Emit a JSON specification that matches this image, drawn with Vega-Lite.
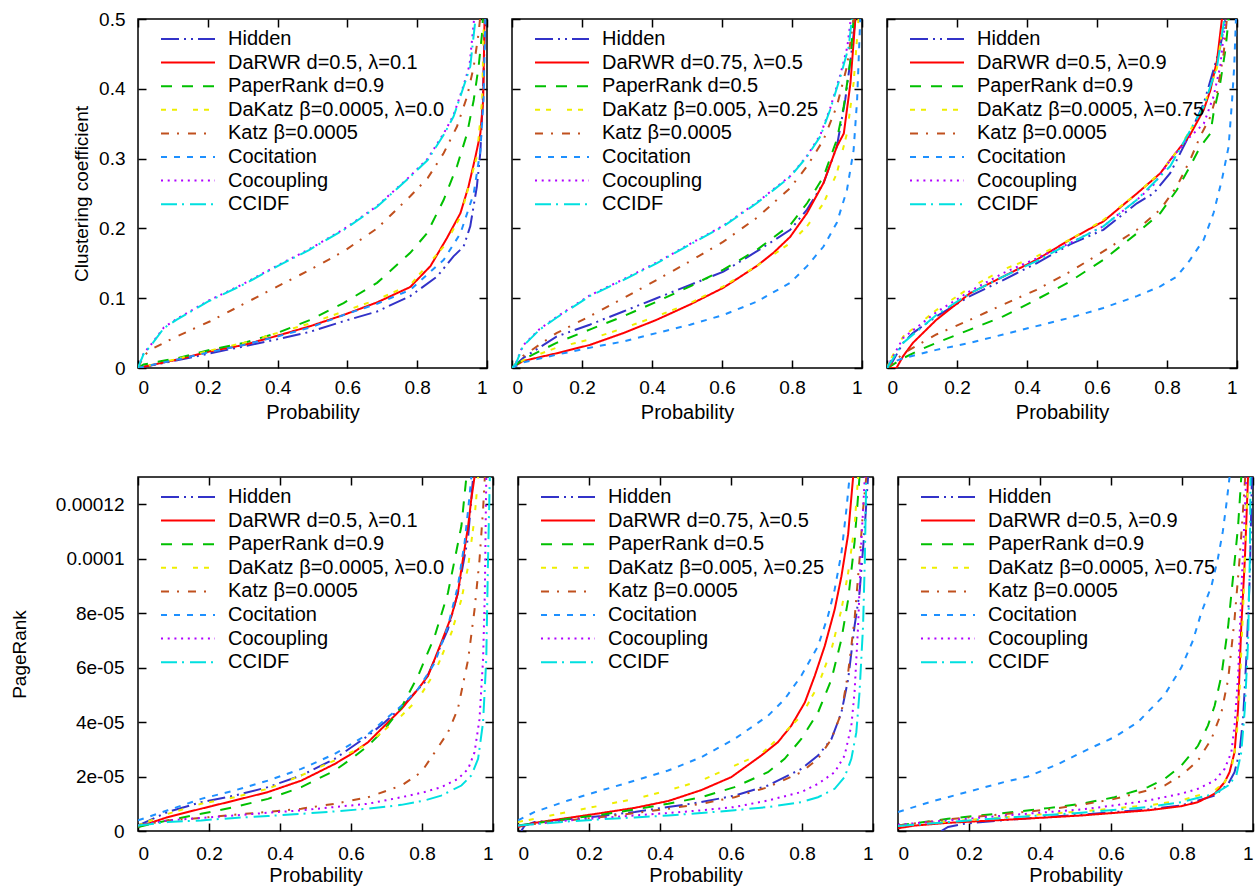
{
"$schema":"https://vega.github.io/schema/vega-lite/v6.json",
"padding":{"left":9,"top":9,"right":0,"bottom":0},
"config":{
 "font":"Liberation Sans",
 "view":{"stroke":"black","strokeWidth":1.5},
 "axis":{"grid":false,"domain":false,"tickColor":"black","tickSize":-8,"tickWidth":1.5,"labelFontSize":19,"labelFont":"Liberation Sans","labelColor":"#000","titleFontSize":19,"titleFont":"Liberation Sans","titleFontWeight":"normal","titleColor":"#000"},
 "axisBottom":{"titleFontSize":20}
},
"datasets":{
"tl":[
{"s":"H","x":0,"y":0},{"s":"H","x":0.112,"y":0.011},{"s":"H","x":0.207,"y":0.021},{"s":"H","x":0.303,"y":0.031},{"s":"H","x":0.398,"y":0.041},{"s":"H","x":0.494,"y":0.052},{"s":"H","x":0.589,"y":0.067},{"s":"H","x":0.685,"y":0.081},{"s":"H","x":0.78,"y":0.103},{"s":"H","x":0.857,"y":0.131},{"s":"H","x":0.904,"y":0.16},{"s":"H","x":0.933,"y":0.174},{"s":"H","x":0.952,"y":0.203},{"s":"H","x":0.971,"y":0.26},{"s":"H","x":0.981,"y":0.31},{"s":"H","x":0.988,"y":0.384},{"s":"H","x":0.995,"y":0.5},
{"s":"R","x":0,"y":0},{"s":"R","x":0.112,"y":0.012},{"s":"R","x":0.207,"y":0.024},{"s":"R","x":0.303,"y":0.033},{"s":"R","x":0.398,"y":0.046},{"s":"R","x":0.494,"y":0.06},{"s":"R","x":0.589,"y":0.076},{"s":"R","x":0.685,"y":0.094},{"s":"R","x":0.78,"y":0.116},{"s":"R","x":0.838,"y":0.146},{"s":"R","x":0.885,"y":0.186},{"s":"R","x":0.924,"y":0.222},{"s":"R","x":0.947,"y":0.26},{"s":"R","x":0.967,"y":0.303},{"s":"R","x":0.981,"y":0.336},{"s":"R","x":0.989,"y":0.384},{"s":"R","x":0.993,"y":0.5},
{"s":"P","x":0,"y":0},{"s":"P","x":0.016,"y":0.005},{"s":"P","x":0.112,"y":0.014},{"s":"P","x":0.207,"y":0.026},{"s":"P","x":0.303,"y":0.036},{"s":"P","x":0.398,"y":0.05},{"s":"P","x":0.494,"y":0.069},{"s":"P","x":0.589,"y":0.093},{"s":"P","x":0.685,"y":0.122},{"s":"P","x":0.78,"y":0.165},{"s":"P","x":0.828,"y":0.193},{"s":"P","x":0.876,"y":0.241},{"s":"P","x":0.914,"y":0.289},{"s":"P","x":0.943,"y":0.336},{"s":"P","x":0.962,"y":0.384},{"s":"P","x":0.976,"y":0.432},{"s":"P","x":0.986,"y":0.48},{"s":"P","x":0.988,"y":0.5},
{"s":"D","x":0,"y":0},{"s":"D","x":0.112,"y":0.013},{"s":"D","x":0.207,"y":0.025},{"s":"D","x":0.303,"y":0.036},{"s":"D","x":0.398,"y":0.05},{"s":"D","x":0.494,"y":0.064},{"s":"D","x":0.589,"y":0.081},{"s":"D","x":0.685,"y":0.098},{"s":"D","x":0.78,"y":0.119},{"s":"D","x":0.876,"y":0.174},{"s":"D","x":0.924,"y":0.217},{"s":"D","x":0.971,"y":0.303},{"s":"D","x":0.986,"y":0.384},{"s":"D","x":0.991,"y":0.5},
{"s":"K","x":0,"y":0},{"s":"K","x":0.016,"y":0.017},{"s":"K","x":0.035,"y":0.026},{"s":"K","x":0.11,"y":0.045},{"s":"K","x":0.207,"y":0.067},{"s":"K","x":0.3,"y":0.091},{"s":"K","x":0.4,"y":0.117},{"s":"K","x":0.494,"y":0.141},{"s":"K","x":0.589,"y":0.167},{"s":"K","x":0.685,"y":0.2},{"s":"K","x":0.78,"y":0.246},{"s":"K","x":0.83,"y":0.272},{"s":"K","x":0.876,"y":0.308},{"s":"K","x":0.914,"y":0.346},{"s":"K","x":0.943,"y":0.389},{"s":"K","x":0.962,"y":0.432},{"s":"K","x":0.976,"y":0.48},{"s":"K","x":0.98,"y":0.5},
{"s":"Ci","x":0,"y":0},{"s":"Ci","x":0.112,"y":0.012},{"s":"Ci","x":0.207,"y":0.023},{"s":"Ci","x":0.303,"y":0.033},{"s":"Ci","x":0.398,"y":0.045},{"s":"Ci","x":0.494,"y":0.058},{"s":"Ci","x":0.589,"y":0.076},{"s":"Ci","x":0.685,"y":0.092},{"s":"Ci","x":0.78,"y":0.112},{"s":"Ci","x":0.876,"y":0.155},{"s":"Ci","x":0.924,"y":0.193},{"s":"Ci","x":0.962,"y":0.25},{"s":"Ci","x":0.981,"y":0.312},{"s":"Ci","x":0.99,"y":0.384},{"s":"Ci","x":0.995,"y":0.5},
{"s":"Co","x":0,"y":0},{"s":"Co","x":0.016,"y":0.021},{"s":"Co","x":0.035,"y":0.032},{"s":"Co","x":0.074,"y":0.058},{"s":"Co","x":0.11,"y":0.07},{"s":"Co","x":0.2,"y":0.096},{"s":"Co","x":0.3,"y":0.12},{"s":"Co","x":0.4,"y":0.147},{"s":"Co","x":0.49,"y":0.17},{"s":"Co","x":0.59,"y":0.199},{"s":"Co","x":0.685,"y":0.232},{"s":"Co","x":0.78,"y":0.275},{"s":"Co","x":0.83,"y":0.3},{"s":"Co","x":0.876,"y":0.336},{"s":"Co","x":0.904,"y":0.362},{"s":"Co","x":0.933,"y":0.405},{"s":"Co","x":0.95,"y":0.434},{"s":"Co","x":0.963,"y":0.5},
{"s":"CC","x":0,"y":0},{"s":"CC","x":0.016,"y":0.02},{"s":"CC","x":0.035,"y":0.031},{"s":"CC","x":0.074,"y":0.057},{"s":"CC","x":0.11,"y":0.069},{"s":"CC","x":0.2,"y":0.095},{"s":"CC","x":0.3,"y":0.119},{"s":"CC","x":0.4,"y":0.146},{"s":"CC","x":0.49,"y":0.169},{"s":"CC","x":0.59,"y":0.198},{"s":"CC","x":0.685,"y":0.231},{"s":"CC","x":0.78,"y":0.274},{"s":"CC","x":0.83,"y":0.298},{"s":"CC","x":0.876,"y":0.334},{"s":"CC","x":0.904,"y":0.36},{"s":"CC","x":0.933,"y":0.403},{"s":"CC","x":0.952,"y":0.432},{"s":"CC","x":0.967,"y":0.5}
],
"tm":[
{"s":"H","x":0,"y":0},{"s":"H","x":0.031,"y":0.014},{"s":"H","x":0.127,"y":0.045},{"s":"H","x":0.222,"y":0.062},{"s":"H","x":0.318,"y":0.081},{"s":"H","x":0.413,"y":0.1},{"s":"H","x":0.509,"y":0.119},{"s":"H","x":0.604,"y":0.138},{"s":"H","x":0.699,"y":0.167},{"s":"H","x":0.795,"y":0.198},{"s":"H","x":0.843,"y":0.227},{"s":"H","x":0.89,"y":0.265},{"s":"H","x":0.928,"y":0.317},{"s":"H","x":0.952,"y":0.384},{"s":"H","x":0.971,"y":0.456},{"s":"H","x":0.981,"y":0.5},
{"s":"R","x":0,"y":0},{"s":"R","x":0.031,"y":0.01},{"s":"R","x":0.127,"y":0.021},{"s":"R","x":0.222,"y":0.033},{"s":"R","x":0.318,"y":0.05},{"s":"R","x":0.413,"y":0.069},{"s":"R","x":0.509,"y":0.091},{"s":"R","x":0.604,"y":0.115},{"s":"R","x":0.699,"y":0.146},{"s":"R","x":0.747,"y":0.165},{"s":"R","x":0.795,"y":0.188},{"s":"R","x":0.843,"y":0.222},{"s":"R","x":0.89,"y":0.265},{"s":"R","x":0.928,"y":0.317},{"s":"R","x":0.948,"y":0.336},{"s":"R","x":0.967,"y":0.408},{"s":"R","x":0.981,"y":0.5},
{"s":"P","x":0,"y":0},{"s":"P","x":0.031,"y":0.012},{"s":"P","x":0.127,"y":0.036},{"s":"P","x":0.222,"y":0.055},{"s":"P","x":0.318,"y":0.074},{"s":"P","x":0.413,"y":0.095},{"s":"P","x":0.509,"y":0.117},{"s":"P","x":0.604,"y":0.141},{"s":"P","x":0.699,"y":0.169},{"s":"P","x":0.795,"y":0.205},{"s":"P","x":0.843,"y":0.236},{"s":"P","x":0.89,"y":0.274},{"s":"P","x":0.928,"y":0.327},{"s":"P","x":0.948,"y":0.375},{"s":"P","x":0.967,"y":0.441},{"s":"P","x":0.976,"y":0.5},
{"s":"D","x":0,"y":0},{"s":"D","x":0.031,"y":0.011},{"s":"D","x":0.127,"y":0.029},{"s":"D","x":0.222,"y":0.041},{"s":"D","x":0.318,"y":0.057},{"s":"D","x":0.413,"y":0.074},{"s":"D","x":0.509,"y":0.093},{"s":"D","x":0.604,"y":0.117},{"s":"D","x":0.699,"y":0.146},{"s":"D","x":0.795,"y":0.179},{"s":"D","x":0.843,"y":0.203},{"s":"D","x":0.89,"y":0.236},{"s":"D","x":0.928,"y":0.279},{"s":"D","x":0.957,"y":0.336},{"s":"D","x":0.976,"y":0.408},{"s":"D","x":0.99,"y":0.5},
{"s":"K","x":0,"y":0},{"s":"K","x":0.012,"y":0.007},{"s":"K","x":0.031,"y":0.017},{"s":"K","x":0.127,"y":0.05},{"s":"K","x":0.222,"y":0.074},{"s":"K","x":0.318,"y":0.1},{"s":"K","x":0.413,"y":0.126},{"s":"K","x":0.509,"y":0.153},{"s":"K","x":0.604,"y":0.181},{"s":"K","x":0.699,"y":0.215},{"s":"K","x":0.795,"y":0.258},{"s":"K","x":0.843,"y":0.289},{"s":"K","x":0.89,"y":0.327},{"s":"K","x":0.928,"y":0.375},{"s":"K","x":0.957,"y":0.432},{"s":"K","x":0.976,"y":0.5},
{"s":"Ci","x":0,"y":0},{"s":"Ci","x":0.031,"y":0.008},{"s":"Ci","x":0.127,"y":0.019},{"s":"Ci","x":0.222,"y":0.029},{"s":"Ci","x":0.318,"y":0.038},{"s":"Ci","x":0.413,"y":0.05},{"s":"Ci","x":0.509,"y":0.062},{"s":"Ci","x":0.604,"y":0.076},{"s":"Ci","x":0.699,"y":0.095},{"s":"Ci","x":0.795,"y":0.122},{"s":"Ci","x":0.843,"y":0.146},{"s":"Ci","x":0.89,"y":0.174},{"s":"Ci","x":0.928,"y":0.208},{"s":"Ci","x":0.957,"y":0.255},{"s":"Ci","x":0.976,"y":0.312},{"s":"Ci","x":0.986,"y":0.384},{"s":"Ci","x":0.995,"y":0.5},
{"s":"Co","x":0,"y":0},{"s":"Co","x":0.012,"y":0.008},{"s":"Co","x":0.031,"y":0.032},{"s":"Co","x":0.079,"y":0.056},{"s":"Co","x":0.127,"y":0.073},{"s":"Co","x":0.222,"y":0.104},{"s":"Co","x":0.318,"y":0.127},{"s":"Co","x":0.413,"y":0.151},{"s":"Co","x":0.509,"y":0.178},{"s":"Co","x":0.604,"y":0.204},{"s":"Co","x":0.699,"y":0.237},{"s":"Co","x":0.795,"y":0.275},{"s":"Co","x":0.843,"y":0.304},{"s":"Co","x":0.881,"y":0.334},{"s":"Co","x":0.909,"y":0.372},{"s":"Co","x":0.938,"y":0.42},{"s":"Co","x":0.958,"y":0.46},{"s":"Co","x":0.968,"y":0.5},
{"s":"CC","x":0,"y":0},{"s":"CC","x":0.012,"y":0.007},{"s":"CC","x":0.031,"y":0.031},{"s":"CC","x":0.079,"y":0.055},{"s":"CC","x":0.127,"y":0.072},{"s":"CC","x":0.222,"y":0.103},{"s":"CC","x":0.318,"y":0.126},{"s":"CC","x":0.413,"y":0.15},{"s":"CC","x":0.509,"y":0.177},{"s":"CC","x":0.604,"y":0.203},{"s":"CC","x":0.699,"y":0.236},{"s":"CC","x":0.795,"y":0.274},{"s":"CC","x":0.843,"y":0.303},{"s":"CC","x":0.881,"y":0.332},{"s":"CC","x":0.909,"y":0.37},{"s":"CC","x":0.938,"y":0.417},{"s":"CC","x":0.962,"y":0.46},{"s":"CC","x":0.971,"y":0.5}
],
"tr":[
{"s":"H","x":0,"y":0},{"s":"H","x":0.008,"y":0.002},{"s":"H","x":0.046,"y":0.036},{"s":"H","x":0.074,"y":0.05},{"s":"H","x":0.141,"y":0.074},{"s":"H","x":0.237,"y":0.103},{"s":"H","x":0.332,"y":0.126},{"s":"H","x":0.427,"y":0.15},{"s":"H","x":0.523,"y":0.177},{"s":"H","x":0.618,"y":0.198},{"s":"H","x":0.714,"y":0.236},{"s":"H","x":0.761,"y":0.25},{"s":"H","x":0.809,"y":0.279},{"s":"H","x":0.857,"y":0.327},{"s":"H","x":0.905,"y":0.379},{"s":"H","x":0.952,"y":0.46},{"s":"H","x":0.967,"y":0.5},
{"s":"R","x":0,"y":0},{"s":"R","x":0.027,"y":0},{"s":"R","x":0.046,"y":0.017},{"s":"R","x":0.074,"y":0.036},{"s":"R","x":0.141,"y":0.069},{"s":"R","x":0.237,"y":0.107},{"s":"R","x":0.332,"y":0.131},{"s":"R","x":0.427,"y":0.155},{"s":"R","x":0.523,"y":0.184},{"s":"R","x":0.618,"y":0.21},{"s":"R","x":0.714,"y":0.25},{"s":"R","x":0.781,"y":0.279},{"s":"R","x":0.809,"y":0.298},{"s":"R","x":0.866,"y":0.334},{"s":"R","x":0.905,"y":0.37},{"s":"R","x":0.924,"y":0.398},{"s":"R","x":0.943,"y":0.441},{"s":"R","x":0.957,"y":0.5},
{"s":"P","x":0,"y":0},{"s":"P","x":0.008,"y":0.002},{"s":"P","x":0.046,"y":0.014},{"s":"P","x":0.094,"y":0.026},{"s":"P","x":0.141,"y":0.036},{"s":"P","x":0.237,"y":0.055},{"s":"P","x":0.332,"y":0.074},{"s":"P","x":0.427,"y":0.098},{"s":"P","x":0.523,"y":0.124},{"s":"P","x":0.618,"y":0.155},{"s":"P","x":0.714,"y":0.193},{"s":"P","x":0.781,"y":0.222},{"s":"P","x":0.828,"y":0.255},{"s":"P","x":0.866,"y":0.289},{"s":"P","x":0.895,"y":0.317},{"s":"P","x":0.924,"y":0.336},{"s":"P","x":0.933,"y":0.365},{"s":"P","x":0.952,"y":0.408},{"s":"P","x":0.967,"y":0.456},{"s":"P","x":0.976,"y":0.5},
{"s":"D","x":0,"y":0},{"s":"D","x":0.008,"y":0.01},{"s":"D","x":0.046,"y":0.045},{"s":"D","x":0.141,"y":0.083},{"s":"D","x":0.237,"y":0.115},{"s":"D","x":0.332,"y":0.141},{"s":"D","x":0.427,"y":0.16},{"s":"D","x":0.523,"y":0.184},{"s":"D","x":0.618,"y":0.212},{"s":"D","x":0.714,"y":0.25},{"s":"D","x":0.781,"y":0.28},{"s":"D","x":0.828,"y":0.31},{"s":"D","x":0.866,"y":0.34},{"s":"D","x":0.905,"y":0.375},{"s":"D","x":0.943,"y":0.43},{"s":"D","x":0.962,"y":0.5},
{"s":"K","x":0,"y":0},{"s":"K","x":0.017,"y":0.007},{"s":"K","x":0.046,"y":0.021},{"s":"K","x":0.141,"y":0.048},{"s":"K","x":0.237,"y":0.069},{"s":"K","x":0.332,"y":0.091},{"s":"K","x":0.427,"y":0.112},{"s":"K","x":0.523,"y":0.138},{"s":"K","x":0.618,"y":0.167},{"s":"K","x":0.714,"y":0.198},{"s":"K","x":0.781,"y":0.227},{"s":"K","x":0.828,"y":0.26},{"s":"K","x":0.866,"y":0.298},{"s":"K","x":0.895,"y":0.332},{"s":"K","x":0.924,"y":0.36},{"s":"K","x":0.943,"y":0.394},{"s":"K","x":0.962,"y":0.451},{"s":"K","x":0.971,"y":0.5},
{"s":"Ci","x":0,"y":0},{"s":"Ci","x":0.008,"y":0.007},{"s":"Ci","x":0.046,"y":0.014},{"s":"Ci","x":0.141,"y":0.026},{"s":"Ci","x":0.237,"y":0.036},{"s":"Ci","x":0.332,"y":0.048},{"s":"Ci","x":0.427,"y":0.06},{"s":"Ci","x":0.523,"y":0.072},{"s":"Ci","x":0.618,"y":0.086},{"s":"Ci","x":0.714,"y":0.103},{"s":"Ci","x":0.781,"y":0.117},{"s":"Ci","x":0.828,"y":0.131},{"s":"Ci","x":0.866,"y":0.155},{"s":"Ci","x":0.905,"y":0.184},{"s":"Ci","x":0.933,"y":0.222},{"s":"Ci","x":0.957,"y":0.27},{"s":"Ci","x":0.976,"y":0.317},{"s":"Ci","x":0.986,"y":0.384},{"s":"Ci","x":0.992,"y":0.432},{"s":"Ci","x":0.997,"y":0.5},
{"s":"Co","x":0,"y":0},{"s":"Co","x":0.008,"y":0.008},{"s":"Co","x":0.046,"y":0.043},{"s":"Co","x":0.141,"y":0.08},{"s":"Co","x":0.237,"y":0.11},{"s":"Co","x":0.332,"y":0.136},{"s":"Co","x":0.427,"y":0.157},{"s":"Co","x":0.523,"y":0.179},{"s":"Co","x":0.618,"y":0.203},{"s":"Co","x":0.714,"y":0.241},{"s":"Co","x":0.761,"y":0.262},{"s":"Co","x":0.809,"y":0.298},{"s":"Co","x":0.857,"y":0.327},{"s":"Co","x":0.905,"y":0.35},{"s":"Co","x":0.933,"y":0.389},{"s":"Co","x":0.952,"y":0.432},{"s":"Co","x":0.967,"y":0.5},
{"s":"CC","x":0,"y":0},{"s":"CC","x":0.008,"y":0.006},{"s":"CC","x":0.046,"y":0.036},{"s":"CC","x":0.141,"y":0.076},{"s":"CC","x":0.237,"y":0.107},{"s":"CC","x":0.332,"y":0.131},{"s":"CC","x":0.427,"y":0.153},{"s":"CC","x":0.523,"y":0.179},{"s":"CC","x":0.618,"y":0.203},{"s":"CC","x":0.714,"y":0.241},{"s":"CC","x":0.809,"y":0.289},{"s":"CC","x":0.857,"y":0.332},{"s":"CC","x":0.905,"y":0.375},{"s":"CC","x":0.943,"y":0.432},{"s":"CC","x":0.964,"y":0.5}
],
"bl":[
{"s":"H","x":0,"y":2e-6},{"s":"H","x":0.084,"y":7e-6},{"s":"H","x":0.178,"y":1.06e-5},{"s":"H","x":0.272,"y":1.3e-5},{"s":"H","x":0.366,"y":1.61e-5},{"s":"H","x":0.46,"y":2.04e-5},{"s":"H","x":0.554,"y":2.65e-5},{"s":"H","x":0.648,"y":3.5e-5},{"s":"H","x":0.695,"y":3.99e-5},{"s":"H","x":0.742,"y":4.54e-5},{"s":"H","x":0.789,"y":5.21e-5},{"s":"H","x":0.807,"y":5.45e-5},{"s":"H","x":0.836,"y":6.3e-5},{"s":"H","x":0.873,"y":7.4e-5},{"s":"H","x":0.901,"y":8.74e-5},{"s":"H","x":0.93,"y":1.08e-4},{"s":"H","x":0.944,"y":1.3e-4},
{"s":"R","x":0,"y":1.5e-6},{"s":"R","x":0.084,"y":5.1e-6},{"s":"R","x":0.178,"y":8.2e-6},{"s":"R","x":0.272,"y":1.12e-5},{"s":"R","x":0.366,"y":1.43e-5},{"s":"R","x":0.46,"y":1.85e-5},{"s":"R","x":0.554,"y":2.46e-5},{"s":"R","x":0.601,"y":2.83e-5},{"s":"R","x":0.648,"y":3.26e-5},{"s":"R","x":0.695,"y":3.87e-5},{"s":"R","x":0.742,"y":4.48e-5},{"s":"R","x":0.789,"y":5.21e-5},{"s":"R","x":0.817,"y":5.7e-5},{"s":"R","x":0.854,"y":6.91e-5},{"s":"R","x":0.883,"y":7.89e-5},{"s":"R","x":0.901,"y":8.74e-5},{"s":"R","x":0.915,"y":9.96e-5},{"s":"R","x":0.93,"y":1.12e-4},{"s":"R","x":0.939,"y":1.22e-4},{"s":"R","x":0.948,"y":1.3e-4},
{"s":"P","x":0,"y":1.5e-6},{"s":"P","x":0.084,"y":3.9e-6},{"s":"P","x":0.178,"y":6.3e-6},{"s":"P","x":0.272,"y":8.8e-6},{"s":"P","x":0.366,"y":1.18e-5},{"s":"P","x":0.46,"y":1.61e-5},{"s":"P","x":0.554,"y":2.22e-5},{"s":"P","x":0.601,"y":2.65e-5},{"s":"P","x":0.648,"y":3.13e-5},{"s":"P","x":0.695,"y":3.74e-5},{"s":"P","x":0.742,"y":4.54e-5},{"s":"P","x":0.789,"y":5.7e-5},{"s":"P","x":0.836,"y":7.16e-5},{"s":"P","x":0.873,"y":8.74e-5},{"s":"P","x":0.892,"y":9.96e-5},{"s":"P","x":0.911,"y":1.12e-4},{"s":"P","x":0.925,"y":1.3e-4},
{"s":"D","x":0,"y":2e-6},{"s":"D","x":0.084,"y":6.3e-6},{"s":"D","x":0.178,"y":1e-5},{"s":"D","x":0.272,"y":1.24e-5},{"s":"D","x":0.366,"y":1.55e-5},{"s":"D","x":0.46,"y":2.04e-5},{"s":"D","x":0.554,"y":2.59e-5},{"s":"D","x":0.648,"y":3.2e-5},{"s":"D","x":0.742,"y":4.23e-5},{"s":"D","x":0.789,"y":4.84e-5},{"s":"D","x":0.836,"y":5.82e-5},{"s":"D","x":0.883,"y":7.28e-5},{"s":"D","x":0.911,"y":8.5e-5},{"s":"D","x":0.93,"y":9.72e-5},{"s":"D","x":0.948,"y":1.15e-4},{"s":"D","x":0.958,"y":1.3e-4},
{"s":"K","x":0,"y":2e-6},{"s":"K","x":0.084,"y":3.9e-6},{"s":"K","x":0.178,"y":4.8e-6},{"s":"K","x":0.272,"y":6e-6},{"s":"K","x":0.366,"y":7e-6},{"s":"K","x":0.46,"y":8.2e-6},{"s":"K","x":0.554,"y":1e-5},{"s":"K","x":0.648,"y":1.24e-5},{"s":"K","x":0.742,"y":1.67e-5},{"s":"K","x":0.798,"y":2.16e-5},{"s":"K","x":0.836,"y":2.89e-5},{"s":"K","x":0.873,"y":3.62e-5},{"s":"K","x":0.901,"y":4.48e-5},{"s":"K","x":0.93,"y":6.3e-5},{"s":"K","x":0.948,"y":8.13e-5},{"s":"K","x":0.962,"y":9.96e-5},{"s":"K","x":0.972,"y":1.18e-4},{"s":"K","x":0.977,"y":1.3e-4},
{"s":"Ci","x":0,"y":3.9e-6},{"s":"Ci","x":0.084,"y":7.6e-6},{"s":"Ci","x":0.178,"y":1.18e-5},{"s":"Ci","x":0.272,"y":1.49e-5},{"s":"Ci","x":0.366,"y":1.85e-5},{"s":"Ci","x":0.46,"y":2.28e-5},{"s":"Ci","x":0.554,"y":2.83e-5},{"s":"Ci","x":0.648,"y":3.56e-5},{"s":"Ci","x":0.742,"y":4.6e-5},{"s":"Ci","x":0.789,"y":5.21e-5},{"s":"Ci","x":0.836,"y":6.18e-5},{"s":"Ci","x":0.873,"y":7.52e-5},{"s":"Ci","x":0.901,"y":8.99e-5},{"s":"Ci","x":0.92,"y":1.06e-4},{"s":"Ci","x":0.93,"y":1.18e-4},{"s":"Ci","x":0.939,"y":1.3e-4},
{"s":"Co","x":0,"y":2e-6},{"s":"Co","x":0.084,"y":3.9e-6},{"s":"Co","x":0.178,"y":4.8e-6},{"s":"Co","x":0.272,"y":5.7e-6},{"s":"Co","x":0.366,"y":6.7e-6},{"s":"Co","x":0.46,"y":7.6e-6},{"s":"Co","x":0.554,"y":8.8e-6},{"s":"Co","x":0.648,"y":1e-5},{"s":"Co","x":0.742,"y":1.24e-5},{"s":"Co","x":0.807,"y":1.43e-5},{"s":"Co","x":0.854,"y":1.61e-5},{"s":"Co","x":0.901,"y":1.91e-5},{"s":"Co","x":0.93,"y":2.28e-5},{"s":"Co","x":0.948,"y":2.89e-5},{"s":"Co","x":0.962,"y":4.11e-5},{"s":"Co","x":0.972,"y":6.3e-5},{"s":"Co","x":0.977,"y":8.74e-5},{"s":"Co","x":0.981,"y":1.3e-4},
{"s":"CC","x":0,"y":2e-6},{"s":"CC","x":0.084,"y":3.3e-6},{"s":"CC","x":0.178,"y":3.9e-6},{"s":"CC","x":0.272,"y":4.8e-6},{"s":"CC","x":0.366,"y":5.5e-6},{"s":"CC","x":0.46,"y":6.3e-6},{"s":"CC","x":0.554,"y":7.2e-6},{"s":"CC","x":0.648,"y":8.2e-6},{"s":"CC","x":0.742,"y":9.6e-6},{"s":"CC","x":0.807,"y":1.12e-5},{"s":"CC","x":0.854,"y":1.3e-5},{"s":"CC","x":0.911,"y":1.67e-5},{"s":"CC","x":0.939,"y":2.04e-5},{"s":"CC","x":0.958,"y":2.65e-5},{"s":"CC","x":0.972,"y":3.99e-5},{"s":"CC","x":0.981,"y":6.3e-5},{"s":"CC","x":0.986,"y":9.96e-5},{"s":"CC","x":0.991,"y":1.3e-4}
],
"bm":[
{"s":"H","x":0.009,"y":0},{"s":"H","x":0.019,"y":2e-6},{"s":"H","x":0.047,"y":3.3e-6},{"s":"H","x":0.141,"y":4.3e-6},{"s":"H","x":0.235,"y":5.5e-6},{"s":"H","x":0.329,"y":7e-6},{"s":"H","x":0.423,"y":8.8e-6},{"s":"H","x":0.516,"y":1.06e-5},{"s":"H","x":0.61,"y":1.3e-5},{"s":"H","x":0.704,"y":1.67e-5},{"s":"H","x":0.798,"y":2.28e-5},{"s":"H","x":0.845,"y":2.77e-5},{"s":"H","x":0.883,"y":3.38e-5},{"s":"H","x":0.911,"y":4.35e-5},{"s":"H","x":0.93,"y":5.57e-5},{"s":"H","x":0.948,"y":7.52e-5},{"s":"H","x":0.962,"y":8.74e-5},{"s":"H","x":0.977,"y":1.12e-4},{"s":"H","x":0.986,"y":1.3e-4},
{"s":"R","x":0,"y":1.5e-6},{"s":"R","x":0.047,"y":3e-6},{"s":"R","x":0.141,"y":4.8e-6},{"s":"R","x":0.235,"y":6.6e-6},{"s":"R","x":0.329,"y":8.5e-6},{"s":"R","x":0.423,"y":1.1e-5},{"s":"R","x":0.516,"y":1.5e-5},{"s":"R","x":0.601,"y":1.98e-5},{"s":"R","x":0.685,"y":2.77e-5},{"s":"R","x":0.732,"y":3.26e-5},{"s":"R","x":0.77,"y":3.87e-5},{"s":"R","x":0.808,"y":4.72e-5},{"s":"R","x":0.836,"y":5.7e-5},{"s":"R","x":0.864,"y":6.79e-5},{"s":"R","x":0.892,"y":8.13e-5},{"s":"R","x":0.911,"y":9.35e-5},{"s":"R","x":0.93,"y":1.09e-4},{"s":"R","x":0.944,"y":1.3e-4},
{"s":"P","x":0,"y":2e-6},{"s":"P","x":0.141,"y":4.5e-6},{"s":"P","x":0.235,"y":6e-6},{"s":"P","x":0.329,"y":7.9e-6},{"s":"P","x":0.423,"y":1e-5},{"s":"P","x":0.516,"y":1.24e-5},{"s":"P","x":0.61,"y":1.61e-5},{"s":"P","x":0.704,"y":2.16e-5},{"s":"P","x":0.751,"y":2.65e-5},{"s":"P","x":0.798,"y":3.38e-5},{"s":"P","x":0.845,"y":4.35e-5},{"s":"P","x":0.883,"y":5.57e-5},{"s":"P","x":0.911,"y":7.04e-5},{"s":"P","x":0.93,"y":8.5e-5},{"s":"P","x":0.948,"y":1.06e-4},{"s":"P","x":0.962,"y":1.3e-4},
{"s":"D","x":0,"y":3.3e-6},{"s":"D","x":0.047,"y":4.5e-6},{"s":"D","x":0.141,"y":7e-6},{"s":"D","x":0.235,"y":9.4e-6},{"s":"D","x":0.329,"y":1.18e-5},{"s":"D","x":0.423,"y":1.49e-5},{"s":"D","x":0.516,"y":1.85e-5},{"s":"D","x":0.61,"y":2.4e-5},{"s":"D","x":0.685,"y":2.83e-5},{"s":"D","x":0.751,"y":3.62e-5},{"s":"D","x":0.798,"y":4.23e-5},{"s":"D","x":0.845,"y":5.33e-5},{"s":"D","x":0.883,"y":6.67e-5},{"s":"D","x":0.911,"y":8.13e-5},{"s":"D","x":0.93,"y":9.48e-5},{"s":"D","x":0.948,"y":1.12e-4},{"s":"D","x":0.958,"y":1.3e-4},
{"s":"K","x":0,"y":2e-6},{"s":"K","x":0.141,"y":3.9e-6},{"s":"K","x":0.235,"y":5.1e-6},{"s":"K","x":0.329,"y":6.6e-6},{"s":"K","x":0.423,"y":8.2e-6},{"s":"K","x":0.516,"y":1e-5},{"s":"K","x":0.61,"y":1.24e-5},{"s":"K","x":0.704,"y":1.61e-5},{"s":"K","x":0.798,"y":2.16e-5},{"s":"K","x":0.845,"y":2.65e-5},{"s":"K","x":0.883,"y":3.38e-5},{"s":"K","x":0.911,"y":4.35e-5},{"s":"K","x":0.93,"y":5.82e-5},{"s":"K","x":0.948,"y":7.77e-5},{"s":"K","x":0.962,"y":9.96e-5},{"s":"K","x":0.972,"y":1.18e-4},{"s":"K","x":0.981,"y":1.3e-4},
{"s":"Ci","x":0,"y":3.9e-6},{"s":"Ci","x":0.047,"y":7e-6},{"s":"Ci","x":0.141,"y":1.12e-5},{"s":"Ci","x":0.235,"y":1.49e-5},{"s":"Ci","x":0.329,"y":1.85e-5},{"s":"Ci","x":0.423,"y":2.22e-5},{"s":"Ci","x":0.516,"y":2.71e-5},{"s":"Ci","x":0.61,"y":3.38e-5},{"s":"Ci","x":0.704,"y":4.23e-5},{"s":"Ci","x":0.751,"y":4.84e-5},{"s":"Ci","x":0.798,"y":5.7e-5},{"s":"Ci","x":0.845,"y":6.79e-5},{"s":"Ci","x":0.873,"y":7.89e-5},{"s":"Ci","x":0.892,"y":8.87e-5},{"s":"Ci","x":0.911,"y":1.02e-4},{"s":"Ci","x":0.925,"y":1.18e-4},{"s":"Ci","x":0.934,"y":1.3e-4},
{"s":"Co","x":0,"y":2e-6},{"s":"Co","x":0.141,"y":3.9e-6},{"s":"Co","x":0.235,"y":4.8e-6},{"s":"Co","x":0.329,"y":5.7e-6},{"s":"Co","x":0.423,"y":6.6e-6},{"s":"Co","x":0.516,"y":7.6e-6},{"s":"Co","x":0.61,"y":8.8e-6},{"s":"Co","x":0.704,"y":1.12e-5},{"s":"Co","x":0.798,"y":1.43e-5},{"s":"Co","x":0.845,"y":1.73e-5},{"s":"Co","x":0.892,"y":2.16e-5},{"s":"Co","x":0.92,"y":2.77e-5},{"s":"Co","x":0.939,"y":3.87e-5},{"s":"Co","x":0.948,"y":5.09e-5},{"s":"Co","x":0.958,"y":7.52e-5},{"s":"Co","x":0.967,"y":1.06e-4},{"s":"Co","x":0.977,"y":1.3e-4},
{"s":"CC","x":0,"y":2e-6},{"s":"CC","x":0.141,"y":3.5e-6},{"s":"CC","x":0.235,"y":4.3e-6},{"s":"CC","x":0.329,"y":5e-6},{"s":"CC","x":0.423,"y":5.7e-6},{"s":"CC","x":0.516,"y":6.6e-6},{"s":"CC","x":0.61,"y":7.6e-6},{"s":"CC","x":0.704,"y":8.8e-6},{"s":"CC","x":0.798,"y":1.06e-5},{"s":"CC","x":0.845,"y":1.24e-5},{"s":"CC","x":0.892,"y":1.55e-5},{"s":"CC","x":0.92,"y":1.98e-5},{"s":"CC","x":0.939,"y":2.65e-5},{"s":"CC","x":0.953,"y":3.62e-5},{"s":"CC","x":0.962,"y":5.09e-5},{"s":"CC","x":0.972,"y":7.52e-5},{"s":"CC","x":0.977,"y":9.96e-5},{"s":"CC","x":0.981,"y":1.3e-4}
],
"br":[
{"s":"H","x":0.122,"y":0},{"s":"H","x":0.141,"y":1.5e-6},{"s":"H","x":0.188,"y":2.7e-6},{"s":"H","x":0.329,"y":4.3e-6},{"s":"H","x":0.516,"y":6e-6},{"s":"H","x":0.704,"y":7.9e-6},{"s":"H","x":0.798,"y":9.4e-6},{"s":"H","x":0.892,"y":1.3e-5},{"s":"H","x":0.93,"y":1.73e-5},{"s":"H","x":0.948,"y":2.16e-5},{"s":"H","x":0.962,"y":2.89e-5},{"s":"H","x":0.972,"y":4.11e-5},{"s":"H","x":0.981,"y":6.3e-5},{"s":"H","x":0.991,"y":9.35e-5},{"s":"H","x":0.997,"y":1.3e-4},
{"s":"R","x":0,"y":1e-6},{"s":"R","x":0.047,"y":2e-6},{"s":"R","x":0.141,"y":3e-6},{"s":"R","x":0.329,"y":4.3e-6},{"s":"R","x":0.516,"y":5.7e-6},{"s":"R","x":0.704,"y":7.6e-6},{"s":"R","x":0.798,"y":9.1e-6},{"s":"R","x":0.845,"y":1.06e-5},{"s":"R","x":0.892,"y":1.37e-5},{"s":"R","x":0.92,"y":1.79e-5},{"s":"R","x":0.934,"y":2.16e-5},{"s":"R","x":0.948,"y":2.89e-5},{"s":"R","x":0.958,"y":4.48e-5},{"s":"R","x":0.967,"y":7.52e-5},{"s":"R","x":0.977,"y":9.96e-5},{"s":"R","x":0.986,"y":1.3e-4},
{"s":"P","x":0,"y":2e-6},{"s":"P","x":0.141,"y":4.5e-6},{"s":"P","x":0.329,"y":7e-6},{"s":"P","x":0.423,"y":8.4e-6},{"s":"P","x":0.516,"y":1e-5},{"s":"P","x":0.61,"y":1.24e-5},{"s":"P","x":0.704,"y":1.61e-5},{"s":"P","x":0.751,"y":1.91e-5},{"s":"P","x":0.798,"y":2.4e-5},{"s":"P","x":0.845,"y":3.13e-5},{"s":"P","x":0.873,"y":3.87e-5},{"s":"P","x":0.892,"y":4.6e-5},{"s":"P","x":0.911,"y":5.7e-5},{"s":"P","x":0.93,"y":7.52e-5},{"s":"P","x":0.944,"y":9.35e-5},{"s":"P","x":0.958,"y":1.12e-4},{"s":"P","x":0.967,"y":1.3e-4},
{"s":"D","x":0,"y":2e-6},{"s":"D","x":0.141,"y":3.5e-6},{"s":"D","x":0.329,"y":5.4e-6},{"s":"D","x":0.516,"y":7.2e-6},{"s":"D","x":0.704,"y":9.4e-6},{"s":"D","x":0.798,"y":1.12e-5},{"s":"D","x":0.892,"y":1.49e-5},{"s":"D","x":0.92,"y":1.79e-5},{"s":"D","x":0.939,"y":2.28e-5},{"s":"D","x":0.953,"y":3.26e-5},{"s":"D","x":0.962,"y":5.09e-5},{"s":"D","x":0.972,"y":8.13e-5},{"s":"D","x":0.981,"y":1.12e-4},{"s":"D","x":0.986,"y":1.3e-4},
{"s":"K","x":0,"y":2e-6},{"s":"K","x":0.141,"y":4.3e-6},{"s":"K","x":0.329,"y":6.6e-6},{"s":"K","x":0.423,"y":7.9e-6},{"s":"K","x":0.516,"y":9.6e-6},{"s":"K","x":0.61,"y":1.18e-5},{"s":"K","x":0.704,"y":1.49e-5},{"s":"K","x":0.751,"y":1.67e-5},{"s":"K","x":0.798,"y":2.04e-5},{"s":"K","x":0.845,"y":2.59e-5},{"s":"K","x":0.883,"y":3.38e-5},{"s":"K","x":0.911,"y":4.35e-5},{"s":"K","x":0.93,"y":5.57e-5},{"s":"K","x":0.948,"y":7.77e-5},{"s":"K","x":0.962,"y":9.96e-5},{"s":"K","x":0.972,"y":1.18e-4},{"s":"K","x":0.978,"y":1.3e-4},
{"s":"Ci","x":0,"y":7e-6},{"s":"Ci","x":0.1,"y":1.1e-5},{"s":"Ci","x":0.2,"y":1.45e-5},{"s":"Ci","x":0.3,"y":1.8e-5},{"s":"Ci","x":0.366,"y":2e-5},{"s":"Ci","x":0.45,"y":2.45e-5},{"s":"Ci","x":0.535,"y":3e-5},{"s":"Ci","x":0.61,"y":3.45e-5},{"s":"Ci","x":0.676,"y":4e-5},{"s":"Ci","x":0.751,"y":5e-5},{"s":"Ci","x":0.798,"y":6e-5},{"s":"Ci","x":0.831,"y":7e-5},{"s":"Ci","x":0.854,"y":8e-5},{"s":"Ci","x":0.883,"y":9e-5},{"s":"Ci","x":0.901,"y":1e-4},{"s":"Ci","x":0.915,"y":1.1e-4},{"s":"Ci","x":0.925,"y":1.2e-4},{"s":"Ci","x":0.934,"y":1.3e-4},
{"s":"Co","x":0,"y":2.3e-6},{"s":"Co","x":0.141,"y":3.9e-6},{"s":"Co","x":0.329,"y":6e-6},{"s":"Co","x":0.516,"y":7.9e-6},{"s":"Co","x":0.61,"y":9.4e-6},{"s":"Co","x":0.704,"y":1.12e-5},{"s":"Co","x":0.798,"y":1.37e-5},{"s":"Co","x":0.845,"y":1.55e-5},{"s":"Co","x":0.892,"y":1.85e-5},{"s":"Co","x":0.92,"y":2.28e-5},{"s":"Co","x":0.939,"y":2.89e-5},{"s":"Co","x":0.948,"y":3.87e-5},{"s":"Co","x":0.958,"y":5.7e-5},{"s":"Co","x":0.967,"y":8.74e-5},{"s":"Co","x":0.977,"y":1.18e-4},{"s":"Co","x":0.981,"y":1.3e-4},
{"s":"CC","x":0,"y":1.8e-6},{"s":"CC","x":0.141,"y":3.3e-6},{"s":"CC","x":0.329,"y":5.1e-6},{"s":"CC","x":0.516,"y":6.7e-6},{"s":"CC","x":0.704,"y":8.8e-6},{"s":"CC","x":0.798,"y":1.06e-5},{"s":"CC","x":0.892,"y":1.37e-5},{"s":"CC","x":0.93,"y":1.67e-5},{"s":"CC","x":0.953,"y":2.04e-5},{"s":"CC","x":0.967,"y":2.89e-5},{"s":"CC","x":0.977,"y":4.48e-5},{"s":"CC","x":0.986,"y":6.91e-5},{"s":"CC","x":0.991,"y":9.96e-5},{"s":"CC","x":0.993,"y":1.3e-4}
]
},
"vconcat":[
{"hconcat":[
 {"width":349,"height":349,"data":{"name":"tl"},
  "layer":[
   {"mark":{"type":"line","strokeWidth":2,"clip":true},
    "encoding":{
     "x":{"field":"x","type":"quantitative","scale":{"domain":[0,1],"nice":false},"axis":{"orient":"bottom","values":[0,0.2,0.4,0.6,0.8,1],"format":"~g","title":"Probability","labelPadding":18,"titlePadding":5}},
     "y":{"field":"y","type":"quantitative","scale":{"domain":[0,0.5],"nice":false},"axis":{"orient":"left","values":[0,0.1,0.2,0.3,0.4,0.5],"format":"~g","title":["","Clustering coefficient"],"titleLineHeight":27,"labelPadding":21,"titlePadding":7}},
     "color":{"field":"s","type":"nominal","scale":{"domain":["H","R","P","D","K","Ci","Co","CC"],"range":["#3232c8","#ff0000","#00c000","#eeee00","#c0501e","#1e90ff","#b000ff","#00e0e0"]},"legend":{"orient":"none","legendX":22,"legendY":10,"title":null,"symbolType":"stroke","symbolSize":2916,"symbolStrokeWidth":2,"clipHeight":20,"rowPadding":3.6,"labelOffset":12,"padding":0,"labelLimit":0,"labelFontSize":20,"labelFont":"Liberation Sans","labelColor":"#000","labelExpr":"datum.value=='H'?'Hidden':datum.value=='R'?'DaRWR d=0.5, λ=0.1':datum.value=='P'?'PaperRank d=0.9':datum.value=='D'?'DaKatz β=0.0005, λ=0.0':datum.value=='K'?'Katz β=0.0005':datum.value=='Ci'?'Cocitation':datum.value=='Co'?'Cocoupling':'CCIDF'"}},
     "strokeDash":{"field":"s","type":"nominal","scale":{"domain":["H","R","P","D","K","Ci","Co","CC"],"range":[[18,5,2,5,2,5],[1,0],[11,10],[5,6,5,16],[8,8,2,9],[6,7],[2,4.7],[16,5,2,6]]},"legend":{"orient":"none","legendX":22,"legendY":10,"title":null,"symbolType":"stroke","symbolSize":2916,"symbolStrokeWidth":2,"clipHeight":20,"rowPadding":3.6,"labelOffset":12,"padding":0,"labelLimit":0,"labelFontSize":20,"labelFont":"Liberation Sans","labelColor":"#000","labelExpr":"datum.value=='H'?'Hidden':datum.value=='R'?'DaRWR d=0.5, λ=0.1':datum.value=='P'?'PaperRank d=0.9':datum.value=='D'?'DaKatz β=0.0005, λ=0.0':datum.value=='K'?'Katz β=0.0005':datum.value=='Ci'?'Cocitation':datum.value=='Co'?'Cocoupling':'CCIDF'"}}
    }},
   {"mark":{"type":"line","opacity":0},
    "encoding":{
     "x":{"field":"x","type":"quantitative","axis":{"orient":"top","values":[0,0.2,0.4,0.6,0.8,1],"labels":false,"title":null}},
     "y":{"field":"y","type":"quantitative","axis":{"orient":"right","values":[0,0.1,0.2,0.3,0.4,0.5],"labels":false,"title":null}}
    }}
  ],
  "resolve":{"axis":{"x":"independent","y":"independent"}}
 },
 {"width":350,"height":349,"data":{"name":"tm"},
  "layer":[
   {"mark":{"type":"line","strokeWidth":2,"clip":true},
    "encoding":{
     "x":{"field":"x","type":"quantitative","scale":{"domain":[0,1],"nice":false},"axis":{"orient":"bottom","values":[0,0.2,0.4,0.6,0.8,1],"format":"~g","title":"Probability","labelPadding":18,"titlePadding":5}},
     "y":{"field":"y","type":"quantitative","scale":{"domain":[0,0.5],"nice":false},"axis":{"orient":"left","values":[0,0.1,0.2,0.3,0.4,0.5],"labels":false,"title":null}},
     "color":{"field":"s","type":"nominal","scale":{"domain":["H","R","P","D","K","Ci","Co","CC"],"range":["#3232c8","#ff0000","#00c000","#eeee00","#c0501e","#1e90ff","#b000ff","#00e0e0"]},"legend":{"orient":"none","legendX":22,"legendY":10,"title":null,"symbolType":"stroke","symbolSize":2916,"symbolStrokeWidth":2,"clipHeight":20,"rowPadding":3.6,"labelOffset":12,"padding":0,"labelLimit":0,"labelFontSize":20,"labelFont":"Liberation Sans","labelColor":"#000","labelExpr":"datum.value=='H'?'Hidden':datum.value=='R'?'DaRWR d=0.75, λ=0.5':datum.value=='P'?'PaperRank d=0.5':datum.value=='D'?'DaKatz β=0.005, λ=0.25':datum.value=='K'?'Katz β=0.0005':datum.value=='Ci'?'Cocitation':datum.value=='Co'?'Cocoupling':'CCIDF'"}},
     "strokeDash":{"field":"s","type":"nominal","scale":{"domain":["H","R","P","D","K","Ci","Co","CC"],"range":[[18,5,2,5,2,5],[1,0],[11,10],[5,6,5,16],[8,8,2,9],[6,7],[2,4.7],[16,5,2,6]]},"legend":{"orient":"none","legendX":22,"legendY":10,"title":null,"symbolType":"stroke","symbolSize":2916,"symbolStrokeWidth":2,"clipHeight":20,"rowPadding":3.6,"labelOffset":12,"padding":0,"labelLimit":0,"labelFontSize":20,"labelFont":"Liberation Sans","labelColor":"#000","labelExpr":"datum.value=='H'?'Hidden':datum.value=='R'?'DaRWR d=0.75, λ=0.5':datum.value=='P'?'PaperRank d=0.5':datum.value=='D'?'DaKatz β=0.005, λ=0.25':datum.value=='K'?'Katz β=0.0005':datum.value=='Ci'?'Cocitation':datum.value=='Co'?'Cocoupling':'CCIDF'"}}
    }},
   {"mark":{"type":"line","opacity":0},
    "encoding":{
     "x":{"field":"x","type":"quantitative","axis":{"orient":"top","values":[0,0.2,0.4,0.6,0.8,1],"labels":false,"title":null}},
     "y":{"field":"y","type":"quantitative","axis":{"orient":"right","values":[0,0.1,0.2,0.3,0.4,0.5],"labels":false,"title":null}}
    }}
  ],
  "resolve":{"axis":{"x":"independent","y":"independent"}}
 },
 {"width":350,"height":349,"data":{"name":"tr"},
  "layer":[
   {"mark":{"type":"line","strokeWidth":2,"clip":true},
    "encoding":{
     "x":{"field":"x","type":"quantitative","scale":{"domain":[0,1],"nice":false},"axis":{"orient":"bottom","values":[0,0.2,0.4,0.6,0.8,1],"format":"~g","title":"Probability","labelPadding":18,"titlePadding":5}},
     "y":{"field":"y","type":"quantitative","scale":{"domain":[0,0.5],"nice":false},"axis":{"orient":"left","values":[0,0.1,0.2,0.3,0.4,0.5],"labels":false,"title":null}},
     "color":{"field":"s","type":"nominal","scale":{"domain":["H","R","P","D","K","Ci","Co","CC"],"range":["#3232c8","#ff0000","#00c000","#eeee00","#c0501e","#1e90ff","#b000ff","#00e0e0"]},"legend":{"orient":"none","legendX":22,"legendY":10,"title":null,"symbolType":"stroke","symbolSize":2916,"symbolStrokeWidth":2,"clipHeight":20,"rowPadding":3.6,"labelOffset":12,"padding":0,"labelLimit":0,"labelFontSize":20,"labelFont":"Liberation Sans","labelColor":"#000","labelExpr":"datum.value=='H'?'Hidden':datum.value=='R'?'DaRWR d=0.5, λ=0.9':datum.value=='P'?'PaperRank d=0.9':datum.value=='D'?'DaKatz β=0.0005, λ=0.75':datum.value=='K'?'Katz β=0.0005':datum.value=='Ci'?'Cocitation':datum.value=='Co'?'Cocoupling':'CCIDF'"}},
     "strokeDash":{"field":"s","type":"nominal","scale":{"domain":["H","R","P","D","K","Ci","Co","CC"],"range":[[18,5,2,5,2,5],[1,0],[11,10],[5,6,5,16],[8,8,2,9],[6,7],[2,4.7],[16,5,2,6]]},"legend":{"orient":"none","legendX":22,"legendY":10,"title":null,"symbolType":"stroke","symbolSize":2916,"symbolStrokeWidth":2,"clipHeight":20,"rowPadding":3.6,"labelOffset":12,"padding":0,"labelLimit":0,"labelFontSize":20,"labelFont":"Liberation Sans","labelColor":"#000","labelExpr":"datum.value=='H'?'Hidden':datum.value=='R'?'DaRWR d=0.5, λ=0.9':datum.value=='P'?'PaperRank d=0.9':datum.value=='D'?'DaKatz β=0.0005, λ=0.75':datum.value=='K'?'Katz β=0.0005':datum.value=='Ci'?'Cocitation':datum.value=='Co'?'Cocoupling':'CCIDF'"}}
    }},
   {"mark":{"type":"line","opacity":0},
    "encoding":{
     "x":{"field":"x","type":"quantitative","axis":{"orient":"top","values":[0,0.2,0.4,0.6,0.8,1],"labels":false,"title":null}},
     "y":{"field":"y","type":"quantitative","axis":{"orient":"right","values":[0,0.1,0.2,0.3,0.4,0.5],"labels":false,"title":null}}
    }}
  ],
  "resolve":{"axis":{"x":"independent","y":"independent"}}
 }
],
"spacing":25,"bounds":"flush",
"resolve":{"scale":{"color":"independent","strokeDash":"independent","x":"independent","y":"independent"},"legend":{"color":"independent","strokeDash":"independent"}}
},
{"hconcat":[
 {"width":355,"height":354,"data":{"name":"bl"},
  "layer":[
   {"mark":{"type":"line","strokeWidth":2,"clip":true},
    "encoding":{
     "x":{"field":"x","type":"quantitative","scale":{"domain":[0,1],"nice":false},"axis":{"orient":"bottom","values":[0,0.2,0.4,0.6,0.8,1],"format":"~g","title":"Probability","labelPadding":21,"titlePadding":2}},
     "y":{"field":"y","type":"quantitative","scale":{"domain":[0,0.00013],"nice":false},"axis":{"orient":"left","values":[0,0.00002,0.00004,0.00006,0.00008,0.0001,0.00012],"labelExpr":"datum.value==0?'0':datum.value<0.0000999?format(datum.value*100000,'.0f')+'e-05':format(datum.value,'.5~f')","title":"PageRank","labelPadding":22,"titlePadding":26}},
     "color":{"field":"s","type":"nominal","scale":{"domain":["H","R","P","D","K","Ci","Co","CC"],"range":["#3232c8","#ff0000","#00c000","#eeee00","#c0501e","#1e90ff","#b000ff","#00e0e0"]},"legend":{"orient":"none","legendX":22,"legendY":10,"title":null,"symbolType":"stroke","symbolSize":2916,"symbolStrokeWidth":2,"clipHeight":20,"rowPadding":3.6,"labelOffset":12,"padding":0,"labelLimit":0,"labelFontSize":20,"labelFont":"Liberation Sans","labelColor":"#000","labelExpr":"datum.value=='H'?'Hidden':datum.value=='R'?'DaRWR d=0.5, λ=0.1':datum.value=='P'?'PaperRank d=0.9':datum.value=='D'?'DaKatz β=0.0005, λ=0.0':datum.value=='K'?'Katz β=0.0005':datum.value=='Ci'?'Cocitation':datum.value=='Co'?'Cocoupling':'CCIDF'"}},
     "strokeDash":{"field":"s","type":"nominal","scale":{"domain":["H","R","P","D","K","Ci","Co","CC"],"range":[[18,5,2,5,2,5],[1,0],[11,10],[5,6,5,16],[8,8,2,9],[6,7],[2,4.7],[16,5,2,6]]},"legend":{"orient":"none","legendX":22,"legendY":10,"title":null,"symbolType":"stroke","symbolSize":2916,"symbolStrokeWidth":2,"clipHeight":20,"rowPadding":3.6,"labelOffset":12,"padding":0,"labelLimit":0,"labelFontSize":20,"labelFont":"Liberation Sans","labelColor":"#000","labelExpr":"datum.value=='H'?'Hidden':datum.value=='R'?'DaRWR d=0.5, λ=0.1':datum.value=='P'?'PaperRank d=0.9':datum.value=='D'?'DaKatz β=0.0005, λ=0.0':datum.value=='K'?'Katz β=0.0005':datum.value=='Ci'?'Cocitation':datum.value=='Co'?'Cocoupling':'CCIDF'"}}
    }},
   {"mark":{"type":"line","opacity":0},
    "encoding":{
     "x":{"field":"x","type":"quantitative","axis":{"orient":"top","values":[0,0.2,0.4,0.6,0.8,1],"labels":false,"title":null}},
     "y":{"field":"y","type":"quantitative","axis":{"orient":"right","values":[0,0.00002,0.00004,0.00006,0.00008,0.0001,0.00012],"labels":false,"title":null}}
    }}
  ],
  "resolve":{"axis":{"x":"independent","y":"independent"}}
 },
 {"width":355,"height":354,"data":{"name":"bm"},
  "layer":[
   {"mark":{"type":"line","strokeWidth":2,"clip":true},
    "encoding":{
     "x":{"field":"x","type":"quantitative","scale":{"domain":[0,1],"nice":false},"axis":{"orient":"bottom","values":[0,0.2,0.4,0.6,0.8,1],"format":"~g","title":"Probability","labelPadding":21,"titlePadding":2}},
     "y":{"field":"y","type":"quantitative","scale":{"domain":[0,0.00013],"nice":false},"axis":{"orient":"left","values":[0,0.00002,0.00004,0.00006,0.00008,0.0001,0.00012],"labels":false,"title":null}},
     "color":{"field":"s","type":"nominal","scale":{"domain":["H","R","P","D","K","Ci","Co","CC"],"range":["#3232c8","#ff0000","#00c000","#eeee00","#c0501e","#1e90ff","#b000ff","#00e0e0"]},"legend":{"orient":"none","legendX":22,"legendY":10,"title":null,"symbolType":"stroke","symbolSize":2916,"symbolStrokeWidth":2,"clipHeight":20,"rowPadding":3.6,"labelOffset":12,"padding":0,"labelLimit":0,"labelFontSize":20,"labelFont":"Liberation Sans","labelColor":"#000","labelExpr":"datum.value=='H'?'Hidden':datum.value=='R'?'DaRWR d=0.75, λ=0.5':datum.value=='P'?'PaperRank d=0.5':datum.value=='D'?'DaKatz β=0.005, λ=0.25':datum.value=='K'?'Katz β=0.0005':datum.value=='Ci'?'Cocitation':datum.value=='Co'?'Cocoupling':'CCIDF'"}},
     "strokeDash":{"field":"s","type":"nominal","scale":{"domain":["H","R","P","D","K","Ci","Co","CC"],"range":[[18,5,2,5,2,5],[1,0],[11,10],[5,6,5,16],[8,8,2,9],[6,7],[2,4.7],[16,5,2,6]]},"legend":{"orient":"none","legendX":22,"legendY":10,"title":null,"symbolType":"stroke","symbolSize":2916,"symbolStrokeWidth":2,"clipHeight":20,"rowPadding":3.6,"labelOffset":12,"padding":0,"labelLimit":0,"labelFontSize":20,"labelFont":"Liberation Sans","labelColor":"#000","labelExpr":"datum.value=='H'?'Hidden':datum.value=='R'?'DaRWR d=0.75, λ=0.5':datum.value=='P'?'PaperRank d=0.5':datum.value=='D'?'DaKatz β=0.005, λ=0.25':datum.value=='K'?'Katz β=0.0005':datum.value=='Ci'?'Cocitation':datum.value=='Co'?'Cocoupling':'CCIDF'"}}
    }},
   {"mark":{"type":"line","opacity":0},
    "encoding":{
     "x":{"field":"x","type":"quantitative","axis":{"orient":"top","values":[0,0.2,0.4,0.6,0.8,1],"labels":false,"title":null}},
     "y":{"field":"y","type":"quantitative","axis":{"orient":"right","values":[0,0.00002,0.00004,0.00006,0.00008,0.0001,0.00012],"labels":false,"title":null}}
    }}
  ],
  "resolve":{"axis":{"x":"independent","y":"independent"}}
 },
 {"width":355,"height":354,"data":{"name":"br"},
  "layer":[
   {"mark":{"type":"line","strokeWidth":2,"clip":true},
    "encoding":{
     "x":{"field":"x","type":"quantitative","scale":{"domain":[0,1],"nice":false},"axis":{"orient":"bottom","values":[0,0.2,0.4,0.6,0.8,1],"format":"~g","title":"Probability","labelPadding":21,"titlePadding":2}},
     "y":{"field":"y","type":"quantitative","scale":{"domain":[0,0.00013],"nice":false},"axis":{"orient":"left","values":[0,0.00002,0.00004,0.00006,0.00008,0.0001,0.00012],"labels":false,"title":null}},
     "color":{"field":"s","type":"nominal","scale":{"domain":["H","R","P","D","K","Ci","Co","CC"],"range":["#3232c8","#ff0000","#00c000","#eeee00","#c0501e","#1e90ff","#b000ff","#00e0e0"]},"legend":{"orient":"none","legendX":22,"legendY":10,"title":null,"symbolType":"stroke","symbolSize":2916,"symbolStrokeWidth":2,"clipHeight":20,"rowPadding":3.6,"labelOffset":12,"padding":0,"labelLimit":0,"labelFontSize":20,"labelFont":"Liberation Sans","labelColor":"#000","labelExpr":"datum.value=='H'?'Hidden':datum.value=='R'?'DaRWR d=0.5, λ=0.9':datum.value=='P'?'PaperRank d=0.9':datum.value=='D'?'DaKatz β=0.0005, λ=0.75':datum.value=='K'?'Katz β=0.0005':datum.value=='Ci'?'Cocitation':datum.value=='Co'?'Cocoupling':'CCIDF'"}},
     "strokeDash":{"field":"s","type":"nominal","scale":{"domain":["H","R","P","D","K","Ci","Co","CC"],"range":[[18,5,2,5,2,5],[1,0],[11,10],[5,6,5,16],[8,8,2,9],[6,7],[2,4.7],[16,5,2,6]]},"legend":{"orient":"none","legendX":22,"legendY":10,"title":null,"symbolType":"stroke","symbolSize":2916,"symbolStrokeWidth":2,"clipHeight":20,"rowPadding":3.6,"labelOffset":12,"padding":0,"labelLimit":0,"labelFontSize":20,"labelFont":"Liberation Sans","labelColor":"#000","labelExpr":"datum.value=='H'?'Hidden':datum.value=='R'?'DaRWR d=0.5, λ=0.9':datum.value=='P'?'PaperRank d=0.9':datum.value=='D'?'DaKatz β=0.0005, λ=0.75':datum.value=='K'?'Katz β=0.0005':datum.value=='Ci'?'Cocitation':datum.value=='Co'?'Cocoupling':'CCIDF'"}}
    }},
   {"mark":{"type":"line","opacity":0},
    "encoding":{
     "x":{"field":"x","type":"quantitative","axis":{"orient":"top","values":[0,0.2,0.4,0.6,0.8,1],"labels":false,"title":null}},
     "y":{"field":"y","type":"quantitative","axis":{"orient":"right","values":[0,0.00002,0.00004,0.00006,0.00008,0.0001,0.00012],"labels":false,"title":null}}
    }}
  ],
  "resolve":{"axis":{"x":"independent","y":"independent"}}
 }
],
"spacing":25,"bounds":"flush",
"resolve":{"scale":{"color":"independent","strokeDash":"independent","x":"independent","y":"independent"},"legend":{"color":"independent","strokeDash":"independent"}}
}
],
"spacing":52,
"resolve":{"scale":{"color":"independent","strokeDash":"independent","x":"independent","y":"independent"},"legend":{"color":"independent","strokeDash":"independent"}}
}
